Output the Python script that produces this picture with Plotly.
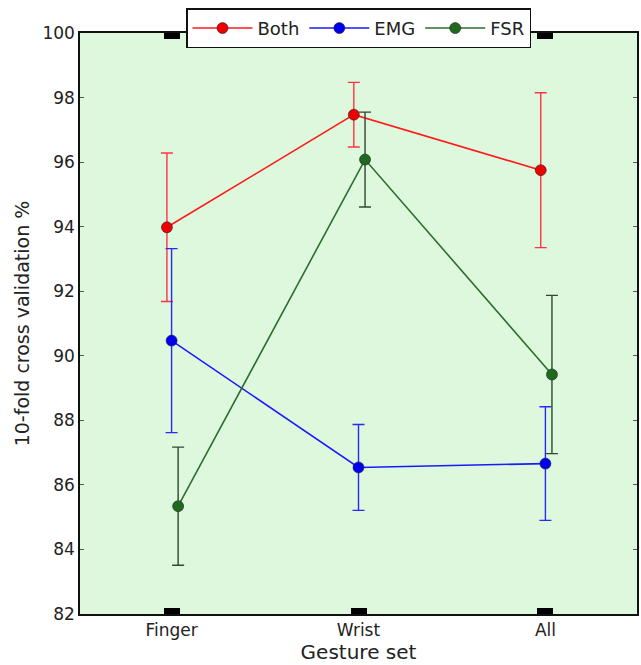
import plotly.graph_objects as go

categories = ["Finger", "Wrist", "All"]
series_names = ["Both", "EMG", "FSR"]
both_vals = [93.98, 97.47, 95.75]
both_err = [2.3, 1.0, 2.4]
emg_vals = [90.47, 86.54, 86.66]
emg_err = [2.85, 1.33, 1.76]
fsr_vals = [85.34, 96.08, 89.42]
fsr_err = [1.83, 1.47, 2.45]
y_ticks = [82, 84, 86, 88, 90, 92, 94, 96, 98, 100]

styles = {
    "Both": dict(line="#ff1a1a", marker="#ee0000", err="#ff3344", off=-0.025),
    "EMG": dict(line="#1a1aff", marker="#0000ee", err="#2a2aff", off=0.0),
    "FSR": dict(line="#2e6e2e", marker="#1f6a1f", err="#2f4a2f", off=0.035),
}
data = {"Both": (both_vals, both_err), "EMG": (emg_vals, emg_err), "FSR": (fsr_vals, fsr_err)}

fig = go.Figure()
for name in series_names:
    vals, errs = data[name]
    st = styles[name]
    xs = [i + st["off"] for i in range(len(categories))]
    fig.add_trace(go.Scatter(
        x=xs, y=vals, name=name, mode="lines+markers",
        line=dict(color=st["line"], width=1.6),
        marker=dict(size=11, color=st["marker"], line=dict(color="#222222", width=0.6)),
        error_y=dict(type="data", array=errs, visible=True, color=st["err"], thickness=1.4, width=6),
    ))

fig.update_layout(
    width=641, height=665,
    margin=dict(l=80, r=2, t=33, b=51),
    paper_bgcolor="white",
    plot_bgcolor="#ddf8dd",
    font=dict(family="DejaVu Sans", size=17, color="#222222"),
    showlegend=True,
    legend=dict(
        orientation="h", x=0.5, xanchor="center", y=1.008, yanchor="middle",
        bgcolor="white", bordercolor="#111111", borderwidth=1.5,
        font=dict(size=18, color="#222222"),
        itemwidth=60, tracegroupgap=0,
    ),
)
fig.update_xaxes(
    range=[-0.49, 2.49], tickmode="array", tickvals=[0, 1, 2], ticktext=categories,
    showgrid=False, zeroline=False,
    showline=True, linecolor="#111111", linewidth=1.5, mirror="ticks",
    ticks="inside", ticklen=6, tickwidth=16, tickcolor="#000000",
    tickfont=dict(size=17),
    title=dict(text="Gesture set", font=dict(size=20), standoff=6),
)
fig.update_yaxes(
    range=[82, 100], tickmode="array", tickvals=y_ticks,
    showgrid=False, zeroline=False,
    showline=True, linecolor="#111111", linewidth=1.5, mirror="ticks",
    ticks="inside", ticklen=4, tickwidth=1, tickcolor="#555555",
    tickfont=dict(size=17),
    title=dict(text="10-fold cross validation %", font=dict(size=19), standoff=8),
)

fig.write_html("out.html")
